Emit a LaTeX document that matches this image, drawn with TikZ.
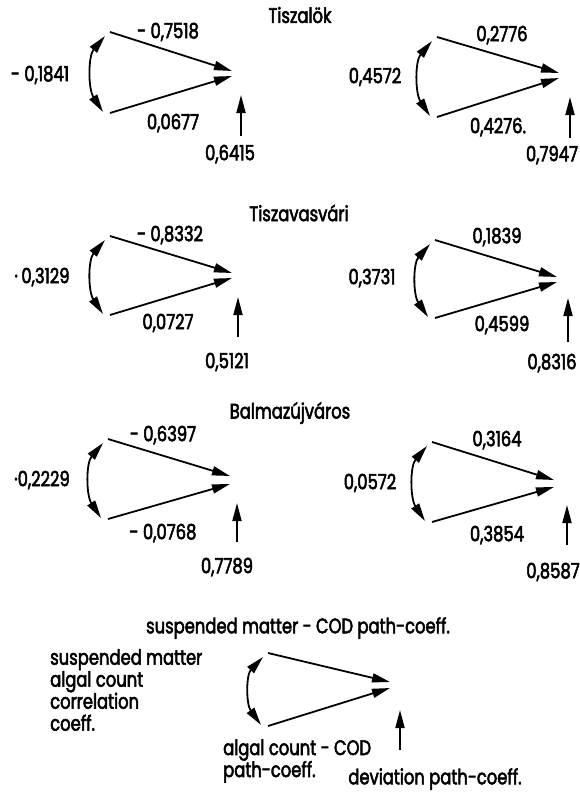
\documentclass[tikz,border=0pt]{standalone}
\usepackage{fontspec}
\setmainfont{Poppins}[FakeStretch=0.78,FakeBold=2.5]
\usetikzlibrary{arrows.meta}
\tikzset{
  arr/.style={line width=1.8pt,-{Triangle[length=18pt,width=9pt]}},
  darr/.style={line width=1.8pt,{Triangle[length=18pt,width=9pt]}-{Triangle[length=18pt,width=9pt]}},
  lbl/.style={inner sep=0pt,font=\fontsize{21}{22}\selectfont},
}
\newcommand\pathdiag[9]{%
  \begin{scope}[shift={(#2,#3)}]
    \coordinate (#1s1) at (0,0);
    \coordinate (#1s2) at (0,#4);
    \coordinate (#1e1) at (122,#5);
    \coordinate (#1e2) at (122,#6);
    \coordinate (#1c1) at (-5,4);
    \coordinate (#1c2) at (-7,#4-1);
    \coordinate (#1v1) at (#7,#8);
    \coordinate (#1v2) at (#7,#9);
    \draw[arr] (#1s1) -- (#1e1);
    \draw[arr] (#1s2) -- (#1e2);
    \draw[darr] (#1c1) .. controls (-22,#4*0.3) and (-22,#4*0.7) .. (#1c2);
    \draw[arr] (#1v1) -- (#1v2);
  \end{scope}}
\begin{document}
\begin{tikzpicture}[x=1pt,y=-1pt]
\useasboundingbox (0,0) rectangle (579,793);
% titles
\node[lbl] (t1) at (300,15) {Tiszalök};
\node[lbl] (t2) at (299,213) {Tiszavasvári};
\node[lbl] (t3) at (290,413) {Balmazújváros};
% row 1
\pathdiag{a}{110}{32}{81}{39}{44}{131}{104}{63}
\node[lbl] (aU) at (168,32) {- 0,7518};
\node[lbl] (aC) at (40,75) {- 0,1841};
\node[lbl] (aL) at (173,123) {0,0677};
\node[lbl] (aV) at (230,154) {0,6415};
\pathdiag{b}{437}{37}{80}{36}{41}{133}{101}{60}
\node[lbl] (bU) at (502,35) {0,2776};
\node[lbl] (bC) at (375,77) {0,4572};
\node[lbl] (bL) at (498,127) {0,4276.};
\node[lbl] (bV) at (552,155) {0,7947};
% row 2
\pathdiag{c}{110}{236}{79}{37}{42}{128}{101}{61}
\node[lbl] (cU) at (170,235) {- 0,8332};
\node[lbl] (cC) at (42,277) {·\,0,3129};
\node[lbl] (cL) at (168,323) {0,0727};
\node[lbl] (cV) at (227,362) {0,5121};
\pathdiag{d}{435}{240}{78}{37}{42}{133}{102}{58}
\node[lbl] (dU) at (497,237) {0,1839};
\node[lbl] (dC) at (372,278) {0,3731};
\node[lbl] (dL) at (502,325) {0,4599};
\node[lbl] (dV) at (552,363) {0,8316};
% row 3
\pathdiag{e}{108}{439}{80}{37}{45}{129}{103}{64}
\node[lbl] (eU) at (163,435) {- 0,6397};
\node[lbl] (eC) at (42,480) {·0,2229};
\node[lbl] (eL) at (163,533) {- 0,0768};
\node[lbl] (eV) at (227,567) {0,7789};
\pathdiag{f}{432}{442}{80}{38}{45}{135}{103}{63}
\node[lbl] (fU) at (497,440) {0,3164};
\node[lbl] (fC) at (370,483) {0,0572};
\node[lbl] (fL) at (497,535) {0,3854};
\node[lbl] (fV) at (553,572) {0,8587};
% legend
\pathdiag{g}{268}{653}{73}{29}{35}{132}{97}{57}
\node[lbl] (gU) at (298,628) {suspended matter - COD path-coeff.};
\node[lbl,anchor=west,align=left] (gC) at (50,690) {suspended matter\\algal count\\correlation\\coeff.};
\node[lbl,anchor=west,align=left] (gL) at (223,761) {algal count - COD\\path-coeff.};
\node[lbl] (gV) at (435,779) {deviation path-coeff.};
\end{tikzpicture}
\end{document}
